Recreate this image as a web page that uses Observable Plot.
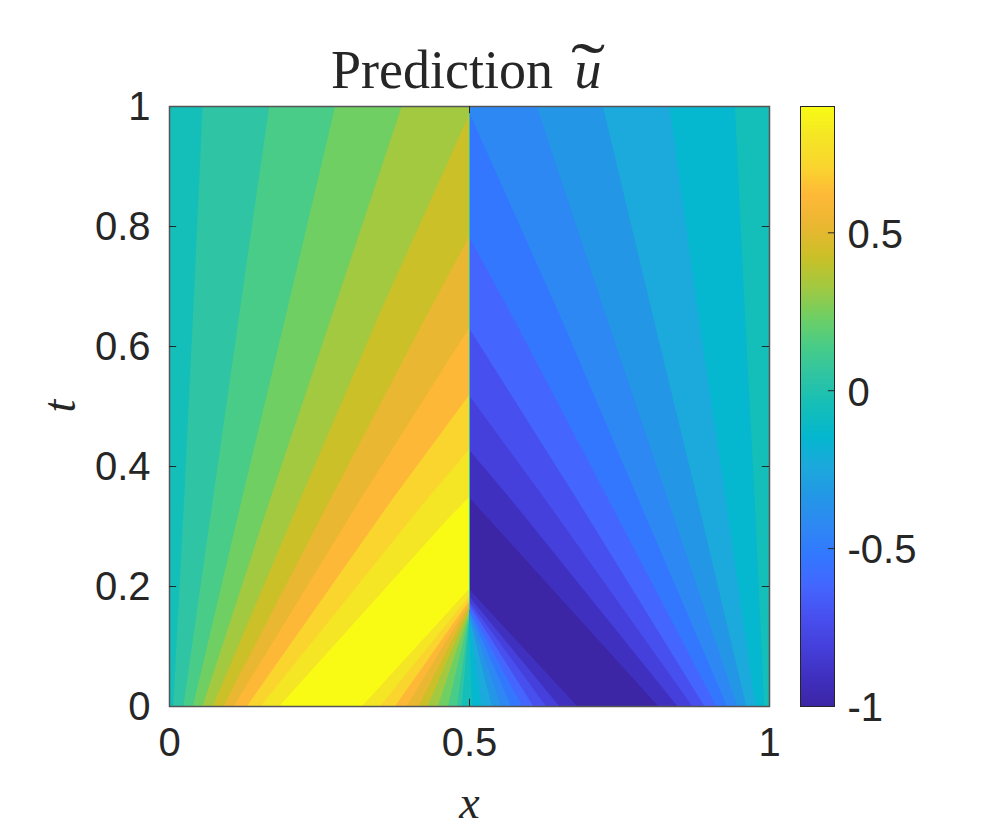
<!DOCTYPE html>
<html>
<head>
<meta charset="utf-8">
<script src="https://cdn.jsdelivr.net/npm/d3@7"></script>
<script src="https://cdn.jsdelivr.net/npm/@observablehq/plot@0.6"></script>
<style>
  html, body { margin: 0; padding: 0; background: #fff; }
  #stage { position: relative; width: 997px; height: 832px; overflow: hidden; }
  #stage > svg { position: absolute; top: 0; left: 0; }
  #title { position: absolute; left: 331px; top: 40px; font: 54px/60px "Liberation Serif", serif; color: #262626; white-space: pre; }
  #title i { position: relative; margin-left: 8px; display: inline-block; }
  #title .tilde { position: absolute; left: 5px; top: 17px; font-style: normal; font-weight: 300; line-height: 20px; height: 20px; transform: scale(1.9, 1.25); transform-origin: 50% 50%; }
</style>
</head>
<body>
<div id="stage">
  <div id="title">Prediction<span> </span><i>u<span class="tilde">˜</span></i></div>
</div>
<script>
// contourf band values and colours (parula)
const bandValues = [-1, -0.905, -0.81, -0.715, -0.62, -0.525, -0.43, -0.335, -0.24, -0.145, -0.05,
  0.045, 0.14, 0.235, 0.33, 0.425, 0.52, 0.615, 0.71, 0.805, 0.9];
const bandColors = ["#3c26a6", "#3f30c0", "#4540dc", "#4750ef", "#4466ff", "#3377ff", "#2e88f4",
  "#2397e6", "#1ca9dc", "#05b7cf", "#14beb9", "#2ec4a4", "#48cc88", "#70cf63", "#a3c940",
  "#cbc027", "#e9b731", "#feb838", "#fad52e", "#f5e625", "#f9fb15"];

const xTicks = [0, 0.5, 1];
const tTicks = [0, 0.2, 0.4, 0.6, 0.8, 1];
const barTicks = [-1, -0.5, 0, 0.5];
const shockX = 0.5;

// Left of the shock: each contour is painted from its line across to x = 0.5, in order
const leftValue = [-0.05, 0.045, 0.14, 0.235, 0.33, 0.425, 0.52, 0.615, 0.71, 0.805, 0.9,
  0.805, 0.71, 0.615, 0.52, 0.425, 0.33, 0.235, 0.14, 0.045, -0.05];
const leftX = [
  [0, 0],
  [0.007, 0.025, 0.040, 0.056],
  [0.024, 0.073, 0.117, 0.167],
  [0.040, 0.121, 0.195, 0.277],
  [0.056, 0.168, 0.272, 0.388],
  [0.073, 0.218, 0.350, 0.5],
  [0.091, 0.268, 0.430, 0.5],
  [0.108, 0.318, 0.5],
  [0.130, 0.371, 0.5],
  [0.153, 0.428, 0.5],
  [0.184, 0.463, 0.5],
  [0.322, 0.5], [0.352, 0.5], [0.377, 0.5], [0.396, 0.5], [0.416, 0.5],
  [0.431, 0.5], [0.448, 0.5], [0.465, 0.5], [0.480, 0.5], [0.488, 0.5]
];
const leftT = [
  [0, 1],
  [0, 0.343, 0.652, 1],
  [0, 0.343, 0.652, 1],
  [0, 0.343, 0.652, 1],
  [0, 0.343, 0.652, 1],
  [0, 0.343, 0.652, 0.985],
  [0, 0.343, 0.652, 0.782],
  [0, 0.343, 0.63],
  [0, 0.343, 0.518],
  [0, 0.343, 0.427],
  [0, 0.31, 0.348],
  [0, 0.195], [0, 0.183], [0, 0.175], [0, 0.17], [0, 0.165],
  [0, 0.16], [0, 0.155], [0, 0.15], [0, 0.145], [0, 0.14]
];

// Right of the shock: same idea, painted from x = 0.5 out to the line
const rightValue = [-0.05, -0.145, -0.24, -0.335, -0.43, -0.525, -0.62, -0.715, -0.81, -0.905, -1,
  -0.905, -0.81, -0.715, -0.62, -0.525, -0.43, -0.335, -0.24, -0.145, -0.05];
const rightX = [
  [1, 1],
  [0.992, 0.976, 0.960, 0.943],
  [0.977, 0.928, 0.882, 0.834],
  [0.962, 0.881, 0.806, 0.723],
  [0.947, 0.832, 0.728, 0.613],
  [0.930, 0.783, 0.651, 0.5],
  [0.912, 0.733, 0.571, 0.5],
  [0.892, 0.681, 0.5],
  [0.872, 0.628, 0.5],
  [0.847, 0.571, 0.5],
  [0.815, 0.5],
  [0.680, 0.5], [0.650, 0.5], [0.628, 0.5], [0.607, 0.5], [0.588, 0.5],
  [0.570, 0.5], [0.553, 0.5], [0.538, 0.5], [0.521, 0.5], [0.505, 0.5]
];
const rightT = [
  [0, 1],
  [0, 0.343, 0.652, 1],
  [0, 0.343, 0.652, 1],
  [0, 0.343, 0.652, 1],
  [0, 0.343, 0.652, 1],
  [0, 0.343, 0.652, 0.99],
  [0, 0.343, 0.652, 0.782],
  [0, 0.343, 0.63],
  [0, 0.343, 0.518],
  [0, 0.343, 0.427],
  [0, 0.348],
  [0, 0.195], [0, 0.183], [0, 0.175], [0, 0.17], [0, 0.165],
  [0, 0.16], [0, 0.155], [0, 0.15], [0, 0.145], [0, 0.14]
];

const toRows = (side, values, xs, ts) => values.flatMap((value, k) =>
  xs[k].map((x, j) => ({id: side + k, value, x, t: ts[k][j], edge: shockX})));
const bands = [
  ...toRows("L", leftValue, leftX, leftT),
  ...toRows("R", rightValue, rightX, rightT)
];
const shock = [{x: shockX, t1: 0.16, t2: 1, value: 0.045}];

const colorScale = {type: "linear", domain: bandValues, range: bandColors, clamp: true};
const sans = '"Liberation Sans", Arial, sans-serif';
const serif = '"Liberation Serif", "Times New Roman", serif';
const ink = "#262626";
const frameInk = "#555555";

const main = Plot.plot({
  width: 997, height: 832,
  marginLeft: 169, marginRight: 228, marginTop: 106, marginBottom: 126,
  style: {background: "transparent", overflow: "visible"},
  x: {domain: [0, 1]},
  y: {domain: [0, 1]},
  color: colorScale,
  marks: [
    Plot.area(bands, {x1: "x", x2: "edge", y1: "t", y2: "t", z: "id", fill: "value", curve: "linear"}),
    Plot.ruleX(shock, {x: "x", y1: "t1", y2: "t2", stroke: "value", strokeWidth: 1}),
    Plot.frame({stroke: frameInk, strokeWidth: 1.5}),
    Plot.axisX({ticks: xTicks, anchor: "bottom", tickSize: 0, tickPadding: 21, label: null, fontSize: 40, fontFamily: sans, color: ink, tickFormat: String}),
    Plot.axisY({ticks: tTicks, anchor: "left", tickSize: 0, tickPadding: 19, dy: 1, label: null, fontSize: 40, fontFamily: sans, color: ink, tickFormat: String}),
    Plot.ruleX(xTicks.slice(1, 2), {y1: 0, y2: 0.012, stroke: ink, strokeWidth: 1}),
    Plot.ruleX(xTicks.slice(1, 2), {y1: 0.988, y2: 1, stroke: ink, strokeWidth: 1}),
    Plot.ruleY(tTicks.slice(1, -1), {x1: 0, x2: 0.012, stroke: ink, strokeWidth: 1}),
    Plot.ruleY(tTicks.slice(1, -1), {x1: 0.988, x2: 1, stroke: ink, strokeWidth: 1}),
    Plot.text(["x"], {frameAnchor: "bottom", dy: 111, lineAnchor: "bottom", fontFamily: serif, fontStyle: "italic", fontSize: 46, fill: ink}),
    Plot.text(["t"], {frameAnchor: "left", dx: -109, dy: 6, rotate: -90, fontFamily: serif, fontStyle: "italic", fontSize: 46, fill: ink})
  ]
});
document.getElementById("stage").appendChild(main);

const bar = Plot.plot({
  width: 198, height: 832,
  marginLeft: 1, marginRight: 163, marginTop: 106, marginBottom: 126,
  style: {background: "transparent", overflow: "visible"},
  x: {domain: [0, 1], axis: null},
  y: {domain: [-1, 0.9]},
  color: colorScale,
  marks: [
    Plot.raster({x1: 0, x2: 1, y1: -1, y2: 0.9, fill: (x, y) => y, pixelSize: 1}),
    Plot.frame({stroke: ink, strokeWidth: 1}),
    Plot.ruleY(barTicks.slice(1), {x1: 0.82, x2: 1, stroke: ink, strokeWidth: 1}),
    Plot.axisY({ticks: barTicks, anchor: "right", tickSize: 0, tickPadding: 13, dy: 2, label: null, fontSize: 40, fontFamily: sans, color: ink, tickFormat: String})
  ]
});
bar.style.left = "799px";
document.getElementById("stage").appendChild(bar);
</script>
</body>
</html>
